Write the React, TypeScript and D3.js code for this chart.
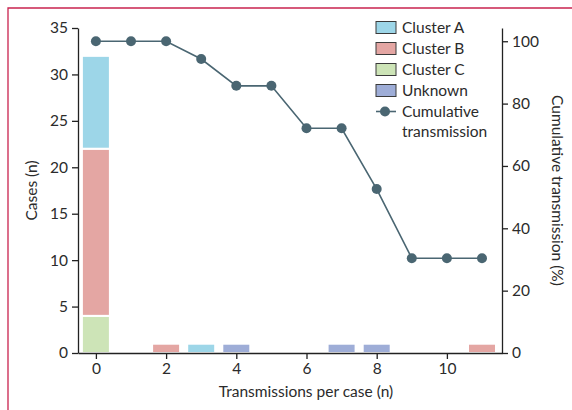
import { useRef, useEffect } from "react";
import * as d3 from "d3";

// transmissions per case (x categories)
const transmissions = [0, 1, 2, 3, 4, 5, 6, 7, 8, 9, 10, 11];
// cases per cluster at each transmission count
const clusterA = [10, 0, 0, 1, 0, 0, 0, 0, 0, 0, 0, 0];
const clusterB = [18, 0, 1, 0, 0, 0, 0, 0, 0, 0, 0, 1];
const clusterC = [4, 0, 0, 0, 0, 0, 0, 0, 0, 0, 0, 0];
const unknown = [0, 0, 0, 0, 1, 0, 0, 1, 1, 0, 0, 0];
// cumulative transmission (%)
const cumulative = [100, 100, 100, 94.3, 85.7, 85.7, 72.1, 72.1, 52.6, 30.4, 30.4, 30.4];

const xTicks = [0, 2, 4, 6, 8, 10];
const leftTicks = [0, 5, 10, 15, 20, 25, 30, 35];
const rightTicks = [0, 20, 40, 60, 80, 100];

const seriesKeys = ["Cluster C", "Cluster B", "Cluster A", "Unknown"];
const colors: Record<string, string> = {
  "Cluster A": "#9dd6e8",
  "Cluster B": "#e4a6a3",
  "Cluster C": "#cde4b7",
  Unknown: "#9eadd7",
};
const legendOrder = ["Cluster A", "Cluster B", "Cluster C", "Unknown"];

const FONT = "Lato, 'Open Sans', sans-serif";
const FS = "15.5px";
const TEXT = "#2b2b2b";
const LINE = "#4a6672";

const App = () => {
  const ref = useRef<SVGSVGElement>(null);

  useEffect(() => {
    if (!ref.current) return;
    const svg = d3.select(ref.current);
    svg.selectAll("*").remove();

    const left = 78;
    const right = 502;
    const top = 28;
    const bottom = 353;

    const x = d3.scaleLinear().domain([-0.51, 11.57]).range([left, right]);
    const y = d3.scaleLinear().domain([0, 35]).range([bottom, top]);
    const y2 = d3.scaleLinear().domain([0, 104.25]).range([bottom, top]);

    // frame
    svg
      .append("path")
      .attr("d", "M8,410 V8 H572")
      .attr("fill", "none")
      .attr("stroke", "#c9234f")
      .attr("stroke-width", 1.3);

    const rows = transmissions.map((t, i) => ({
      t,
      "Cluster A": clusterA[i],
      "Cluster B": clusterB[i],
      "Cluster C": clusterC[i],
      Unknown: unknown[i],
    }));
    const stacked = d3.stack<any>().keys(seriesKeys)(rows);

    const barW = 28;
    svg
      .append("g")
      .selectAll("g")
      .data(stacked)
      .join("g")
      .attr("fill", (d: any) => colors[d.key])
      .selectAll("rect")
      .data((d: any) => d.filter((s: any) => s[1] - s[0] > 0))
      .join("rect")
      .attr("x", (d: any) => x(d.data.t) - barW / 2)
      .attr("y", (d: any) => y(d[1]))
      .attr("width", barW)
      .attr("height", (d: any) => y(d[0]) - y(d[1]))
      .attr("stroke", "#fff")
      .attr("stroke-width", 2);

    const axisStyle = (g: any) => {
      g.select(".domain").attr("stroke", "#222").attr("stroke-width", 1.3);
      g.selectAll(".tick line").attr("stroke", "#222").attr("stroke-width", 1.3);
      g.selectAll("text")
        .attr("fill", TEXT)
        .style("font-family", FONT)
        .style("font-size", FS);
    };

    svg
      .append("g")
      .attr("transform", `translate(0,${bottom})`)
      .call(
        d3
          .axisBottom(x)
          .tickValues(xTicks)
          .tickSize(6)
          .tickSizeOuter(0)
          .tickPadding(4)
      )
      .call(axisStyle);

    svg
      .append("g")
      .attr("transform", `translate(${left},0)`)
      .call(
        d3
          .axisLeft(y)
          .tickValues(leftTicks)
          .tickSize(6)
          .tickSizeOuter(0)
          .tickPadding(4)
      )
      .call(axisStyle);

    svg
      .append("g")
      .attr("transform", `translate(${right},0)`)
      .call(
        d3
          .axisRight(y2)
          .tickValues(rightTicks)
          .tickSize(6)
          .tickSizeOuter(0)
          .tickPadding(4)
      )
      .call(axisStyle);

    // line
    const line = d3
      .line<number>()
      .x((_d, i) => x(transmissions[i]))
      .y((d) => y2(d));
    svg
      .append("path")
      .datum(cumulative)
      .attr("d", line)
      .attr("fill", "none")
      .attr("stroke", LINE)
      .attr("stroke-width", 1.6);
    svg
      .append("g")
      .selectAll("circle")
      .data(cumulative)
      .join("circle")
      .attr("cx", (_d: any, i: number) => x(transmissions[i]))
      .attr("cy", (d: number) => y2(d))
      .attr("r", 5)
      .attr("fill", LINE);

    // axis titles
    svg
      .append("text")
      .attr("x", 306)
      .attr("y", 397)
      .attr("text-anchor", "middle")
      .attr("fill", TEXT)
      .style("font-family", FONT)
      .style("font-size", FS)
      .text("Transmissions per case (n)");
    svg
      .append("text")
      .attr("transform", `translate(37,${(top + bottom) / 2}) rotate(-90)`)
      .attr("text-anchor", "middle")
      .attr("fill", TEXT)
      .style("font-family", FONT)
      .style("font-size", FS)
      .text("Cases (n)");
    svg
      .append("text")
      .attr("transform", `translate(552,${(top + bottom) / 2}) rotate(90)`)
      .attr("text-anchor", "middle")
      .attr("fill", TEXT)
      .style("font-family", FONT)
      .style("font-size", FS)
      .text("Cumulative transmission (%)");

    // legend
    const legend = svg.append("g");
    const ly0 = 27.5;
    const step = 21;
    legendOrder.forEach((k, i) => {
      const cy = ly0 + i * step;
      legend
        .append("rect")
        .attr("x", 376)
        .attr("y", cy - 6)
        .attr("width", 20)
        .attr("height", 12)
        .attr("fill", colors[k])
        .attr("stroke", "#3a3a3a")
        .attr("stroke-width", 1);
      legend
        .append("text")
        .attr("x", 402)
        .attr("y", cy)
        .attr("dy", "0.35em")
        .attr("fill", TEXT)
        .style("font-family", FONT)
        .style("font-size", FS)
        .text(k);
    });
    const lcy = ly0 + 4 * step;
    legend
      .append("line")
      .attr("x1", 376)
      .attr("x2", 396)
      .attr("y1", lcy)
      .attr("y2", lcy)
      .attr("stroke", LINE)
      .attr("stroke-width", 1.6);
    legend
      .append("circle")
      .attr("cx", 385)
      .attr("cy", lcy)
      .attr("r", 5)
      .attr("fill", LINE);
    legend
      .append("text")
      .attr("x", 402)
      .attr("y", lcy)
      .attr("dy", "0.35em")
      .attr("fill", TEXT)
      .style("font-family", FONT)
      .style("font-size", FS)
      .text("Cumulative");
    legend
      .append("text")
      .attr("x", 402)
      .attr("y", lcy + 20)
      .attr("dy", "0.35em")
      .attr("fill", TEXT)
      .style("font-family", FONT)
      .style("font-size", FS)
      .text("transmission");

    return () => {
      svg.selectAll("*").remove();
    };
  }, []);

  return (
    <svg
      ref={ref}
      width={572}
      height={410}
      style={{ position: "absolute", left: 0, top: 0, background: "#fff" }}
    />
  );
};

export default App;
